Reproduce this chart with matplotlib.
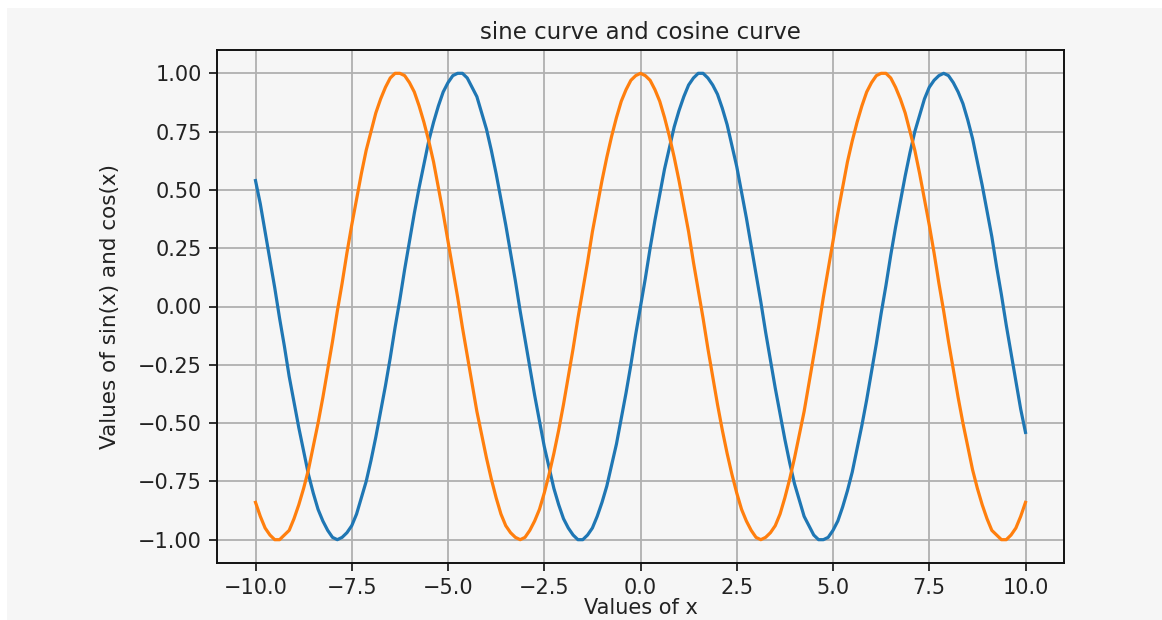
import numpy as np
import matplotlib
matplotlib.use("Agg")
import matplotlib.pyplot as plt
from matplotlib.patches import Rectangle
from matplotlib.ticker import FuncFormatter

# x grid, step 0.125 from -10 to 10
x_values = np.linspace(-10, 10, 161)

sin_values = [
    # x = -10 ... -0.125
    0.54, 0.44, 0.32, 0.20, 0.08, -0.05, -0.17, -0.30, -0.41, -0.52,
    -0.62, -0.72, -0.80, -0.87, -0.92, -0.96, -0.99, -1.00, -0.99, -0.97,
    -0.94, -0.89, -0.82, -0.75, -0.66, -0.56, -0.45, -0.34, -0.22, -0.09,
    0.03, 0.16, 0.28, 0.40, 0.51, 0.61, 0.71, 0.79, 0.86, 0.92,
    0.96, 0.99, 1.00, 1.00, 0.98, 0.94, 0.90, 0.83, 0.76, 0.67,
    0.57, 0.46, 0.35, 0.23, 0.11, -0.02, -0.14, -0.26, -0.38, -0.49,
    -0.60, -0.69, -0.78, -0.85, -0.91, -0.95, -0.98, -1.00, -1.00, -0.98,
    -0.95, -0.90, -0.84, -0.77, -0.68, -0.59, -0.48, -0.37, -0.25, -0.12,
    # x = 0
    0.00,
    # x = 0.125 ... 10
    0.12, 0.25, 0.37, 0.48, 0.59, 0.68, 0.77, 0.84, 0.90, 0.95,
    0.98, 1.00, 1.00, 0.98, 0.95, 0.91, 0.85, 0.78, 0.69, 0.60,
    0.49, 0.38, 0.26, 0.14, 0.02, -0.11, -0.23, -0.35, -0.46, -0.57,
    -0.67, -0.76, -0.83, -0.90, -0.94, -0.98, -1.00, -1.00, -0.99, -0.96,
    -0.92, -0.86, -0.79, -0.71, -0.61, -0.51, -0.40, -0.28, -0.16, -0.03,
    0.09, 0.22, 0.34, 0.45, 0.56, 0.66, 0.75, 0.82, 0.89, 0.94,
    0.97, 0.99, 1.00, 0.99, 0.96, 0.92, 0.87, 0.80, 0.72, 0.62,
    0.52, 0.41, 0.30, 0.17, 0.05, -0.08, -0.20, -0.32, -0.44, -0.54,
]

cos_values = [
    # x = -10 ... -0.125
    -0.84, -0.90, -0.95, -0.98, -1.00, -1.00, -0.98, -0.96, -0.91, -0.85,
    -0.78, -0.70, -0.60, -0.50, -0.39, -0.27, -0.15, -0.02, 0.10, 0.23,
    0.35, 0.46, 0.57, 0.67, 0.75, 0.83, 0.89, 0.94, 0.98, 1.00,
    1.00, 0.99, 0.96, 0.92, 0.86, 0.79, 0.71, 0.62, 0.51, 0.40,
    0.28, 0.16, 0.04, -0.09, -0.21, -0.33, -0.45, -0.55, -0.65, -0.74,
    -0.82, -0.89, -0.94, -0.97, -0.99, -1.00, -0.99, -0.96, -0.92, -0.87,
    -0.80, -0.72, -0.63, -0.53, -0.42, -0.30, -0.18, -0.05, 0.07, 0.19,
    0.32, 0.43, 0.54, 0.64, 0.73, 0.81, 0.88, 0.93, 0.97, 0.99,
    # x = 0
    1.00,
    # x = 0.125 ... 10
    0.99, 0.97, 0.93, 0.88, 0.81, 0.73, 0.64, 0.54, 0.43, 0.32,
    0.19, 0.07, -0.05, -0.18, -0.30, -0.42, -0.53, -0.63, -0.72, -0.80,
    -0.87, -0.92, -0.96, -0.99, -1.00, -0.99, -0.97, -0.94, -0.89, -0.82,
    -0.74, -0.65, -0.55, -0.45, -0.33, -0.21, -0.09, 0.04, 0.16, 0.28,
    0.40, 0.51, 0.62, 0.71, 0.79, 0.86, 0.92, 0.96, 0.99, 1.00,
    1.00, 0.98, 0.94, 0.89, 0.83, 0.75, 0.67, 0.57, 0.46, 0.35,
    0.23, 0.10, -0.02, -0.15, -0.27, -0.39, -0.50, -0.60, -0.70, -0.78,
    -0.85, -0.91, -0.96, -0.98, -1.00, -1.00, -0.98, -0.95, -0.90, -0.84,
]

x_ticks = [-10, -7.5, -5, -2.5, 0, 2.5, 5, 7.5, 10]
y_ticks = [-1, -0.75, -0.5, -0.25, 0, 0.25, 0.5, 0.75, 1]

title = "sine curve and cosine curve"
xlabel = "Values of x"
ylabel = "Values of sin(x) and cos(x)"

assert len(sin_values) == len(x_values) and len(cos_values) == len(x_values)

W, H = 1162, 620
fig = plt.figure(figsize=(W / 100, H / 100), dpi=100, facecolor="white")
# light grey panel (screenshot background) with a thin white border at top/left
fig.patches.append(Rectangle((7 / W, 0), 1 - 7 / W, 1 - 8 / H,
                             transform=fig.transFigure, facecolor="#f6f6f6",
                             edgecolor="none", zorder=-10))

ax = fig.add_axes([217 / W, 1 - 563 / H, (1064 - 217) / W, (563 - 50) / H])
ax.set_facecolor("#f6f6f6")

ax.plot(x_values, sin_values, color="#1f77b4", lw=2.3)
ax.plot(x_values, cos_values, color="#ff7f0e", lw=2.3)

ax.grid(True, color="#b0b0b0", lw=1.3)
ax.set_axisbelow(True)
ax.set_xticks(x_ticks)
ax.set_yticks(y_ticks)
ax.xaxis.set_major_formatter(FuncFormatter(lambda v, p: f"{v:.1f}".replace("-", "\u2212")))
ax.yaxis.set_major_formatter(FuncFormatter(lambda v, p: f"{v:.2f}".replace("-", "\u2212")))
ax.tick_params(labelsize=15, length=6, width=1.3, colors="#222222", pad=5)
for s in ax.spines.values():
    s.set_linewidth(1.4)
    s.set_color("#111111")

ax.set_title(title, fontsize=16.5, color="#222222", pad=8)
ax.set_xlabel(xlabel, fontsize=15, color="#222222", labelpad=0)
ax.set_ylabel(ylabel, fontsize=15.5, color="#222222", labelpad=13)

fig.savefig("out.png", dpi=100, facecolor=fig.get_facecolor())
